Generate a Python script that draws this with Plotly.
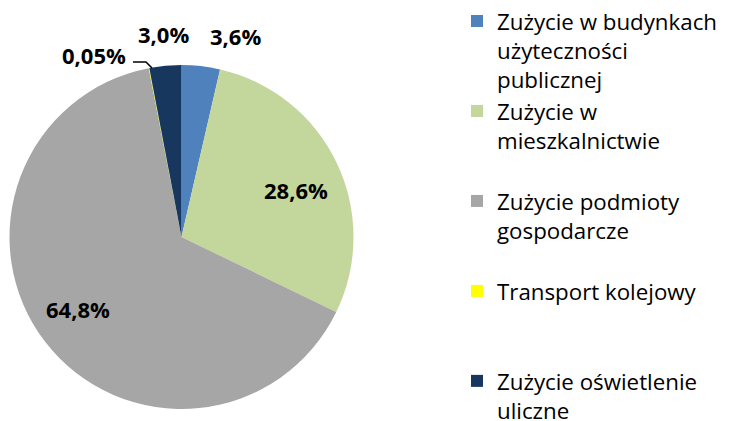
import plotly.graph_objects as go

# ---- data ----
categories = [
    "Zużycie w budynkach<br>użyteczności<br>publicznej",
    "Zużycie w<br>mieszkalnictwie<br> ",
    "Zużycie podmioty<br>gospodarcze<br> ",
    "Transport kolejowy<br> <br> ",
    "Zużycie oświetlenie<br>uliczne",
]
shares = [3.6, 28.6, 64.8, 0.05, 3.0]
colors = ["#4F81BD", "#C3D69B", "#A6A6A6", "#FFFF00", "#17375E"]

# label centre positions (pixels from top-left) for the data labels
label_px = [(235, 36), (296, 190), (78, 309), (94, 55), (163, 34)]

W, H = 732, 421


def fmt(v):
    s = f"{v:.2f}" if v < 0.1 else f"{v:.1f}"
    return s.replace(".", ",") + "%"


cx, cy, r = 181.5, 237.0, 172.0

fig = go.Figure(
    go.Pie(
        labels=categories,
        values=shares,
        marker=dict(colors=colors, line=dict(width=0)),
        sort=False,
        direction="clockwise",
        rotation=0,
        textinfo="none",
        hoverinfo="label+percent",
        domain=dict(
            x=[(cx - r) / W, (cx + r) / W],
            y=[1 - (cy + r) / H, 1 - (cy - r) / H],
        ),
    )
)

annotations = []
for v, (px, py) in zip(shares, label_px):
    annotations.append(
        dict(
            x=px / W, y=1 - py / H, xref="paper", yref="paper",
            text=f"<b>{fmt(v)}</b>", showarrow=False,
            xanchor="center", yanchor="middle",
            font=dict(family="Open Sans", size=22, color="#000000"),
        )
    )

# leader line for the tiny slice
fig.add_shape(
    type="path",
    path=f"M {133/W},{1-62/H} L {146/W},{1-62/H} L {152/W},{1-68/H}",
    xref="paper", yref="paper",
    line=dict(color="#000000", width=1.5),
)

fig.update_layout(
    width=W, height=H,
    margin=dict(l=0, r=0, t=0, b=0),
    paper_bgcolor="white",
    plot_bgcolor="white",
    annotations=annotations,
    showlegend=True,
    legend=dict(
        x=457 / W, y=1 - 11 / H, xanchor="left", yanchor="top",
        font=dict(family="Open Sans", size=22.3, color="#000000"),
        valign="top",
        itemwidth=30,
        tracegroupgap=0,
        maxheight=2000,
        bgcolor="rgba(0,0,0,0)",
    ),
)

fig.write_html(
    "out.html",
    config={"displayModeBar": False},
    post_script="document.body.style.margin='0';document.body.style.overflow='hidden';",
)
